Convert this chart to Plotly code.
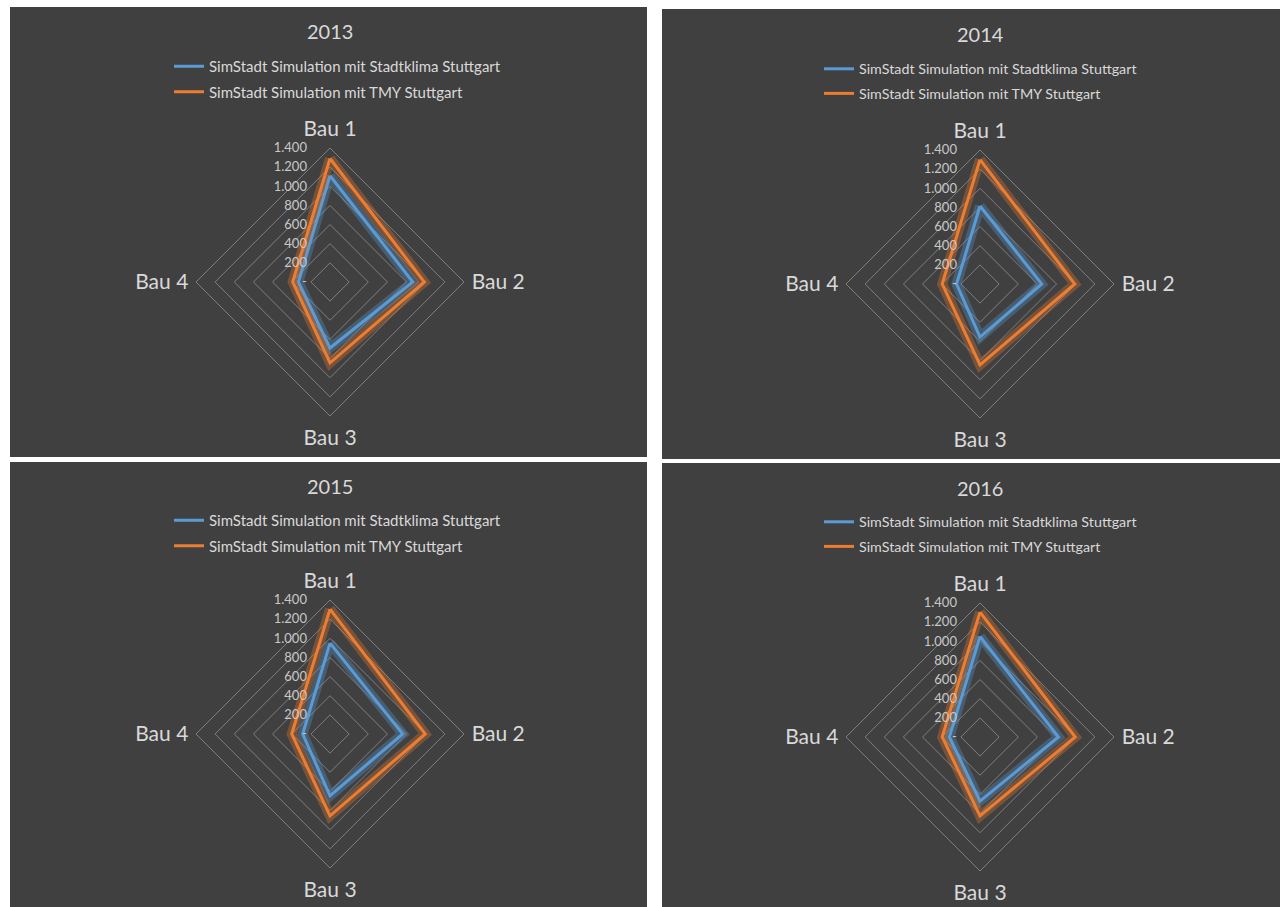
import plotly.graph_objects as go

W, H = 1280, 907

categories = ["Bau 1", "Bau 2", "Bau 3", "Bau 4"]
years = ["2013", "2014", "2015", "2016"]
series_names = ["SimStadt Simulation mit Stadtklima Stuttgart",
                "SimStadt Simulation mit TMY Stuttgart"]

stadtklima_2013 = [1110, 865, 690, 330]
tmy_2013 = [1290, 985, 845, 390]
stadtklima_2014 = [815, 645, 555, 245]
tmy_2014 = [1300, 990, 845, 395]
stadtklima_2015 = [950, 760, 645, 285]
tmy_2015 = [1305, 995, 855, 400]
stadtklima_2016 = [1050, 820, 670, 320]
tmy_2016 = [1305, 995, 825, 395]

tick_values = [0, 200, 400, 600, 800, 1000, 1200, 1400]
tick_labels = ["-", "200", "400", "600", "800", "1.000", "1.200", "1.400"]

data = {
    "2013": [stadtklima_2013, tmy_2013],
    "2014": [stadtklima_2014, tmy_2014],
    "2015": [stadtklima_2015, tmy_2015],
    "2016": [stadtklima_2016, tmy_2016],
}

BG = "#404040"
TXT = "#d9d9d9"
TICK_TXT = "#c8c8c8"
GRID = "#7f7f7f"
COLORS = ["#5b9bd5", "#ed7d31"]
GLOWS = ["rgba(91,155,213,0.32)", "rgba(237,125,49,0.32)"]
FONT = "Lato"

# panel layout in pixels: rect, polar center, title y, legend (x, y), legend font size
panels = {
    "2013": dict(rect=(10, 7, 647, 457), c=(330, 282), ty=31, lg=(169, 50), fs=15),
    "2014": dict(rect=(662, 9, 1280, 459), c=(980, 284), ty=34, lg=(819, 53), fs=14.3),
    "2015": dict(rect=(10, 462, 647, 907), c=(330, 734), ty=486, lg=(169, 504), fs=15),
    "2016": dict(rect=(662, 463, 1280, 907), c=(980, 737), ty=488, lg=(819, 506), fs=14.3),
}
R = 134

fig = go.Figure()
shapes = []
annotations = []
layout_extra = {}

for i, yr in enumerate(years):
    p = panels[yr]
    x0, y0, x1, y1 = p["rect"]
    shapes.append(dict(type="rect", xref="paper", yref="paper",
                       x0=x0 / W, x1=x1 / W, y0=1 - y1 / H, y1=1 - y0 / H,
                       fillcolor=BG, line=dict(width=0), layer="below"))
    cx, cy = p["c"]
    annotations.append(dict(text=yr, xref="paper", yref="paper",
                            x=cx / W, y=1 - p["ty"] / H, xanchor="center", yanchor="middle",
                            showarrow=False, font=dict(family=FONT, size=20, color=TXT)))
    pname = "polar" if i == 0 else f"polar{i + 1}"
    lname = "legend" if i == 0 else f"legend{i + 1}"
    layout_extra[pname] = dict(
        domain=dict(x=[(cx - R) / W, (cx + R) / W], y=[1 - (cy + R) / H, 1 - (cy - R) / H]),
        bgcolor=BG,
        gridshape="linear",
        angularaxis=dict(rotation=90, direction="clockwise", showgrid=False,
                         showline=True, linecolor=GRID, linewidth=1,
                         ticks="outside", ticklen=3, tickcolor="rgba(0,0,0,0)",
                         tickfont=dict(family=FONT, size=21, color=TXT)),
        radialaxis=dict(range=[0, 1400], angle=90, tickangle=90, showline=False,
                        tickvals=tick_values, ticktext=tick_labels,
                        side="counterclockwise", ticks="outside", ticklen=18,
                        tickcolor="rgba(0,0,0,0)",
                        gridcolor=GRID, gridwidth=1,
                        tickfont=dict(family=FONT, size=13, color=TICK_TXT)),
    )
    lx, ly = p["lg"]
    layout_extra[lname] = dict(x=lx / W, y=1 - ly / H, xanchor="left", yanchor="top",
                               bgcolor="rgba(0,0,0,0)", borderwidth=0,
                               font=dict(family=FONT, size=p["fs"], color=TXT),
                               traceorder="grouped", tracegroupgap=3,
                               itemwidth=30)
    sub = "polar" if i == 0 else f"polar{i + 1}"
    for s in range(2):
        vals = data[yr][s]
        r = vals + vals[:1]
        th = categories + categories[:1]
        fig.add_trace(go.Scatterpolar(r=r, theta=th, mode="lines", subplot=sub,
                                      line=dict(color=GLOWS[s], width=10),
                                      showlegend=False, hoverinfo="skip"))
        fig.add_trace(go.Scatterpolar(r=r, theta=th, mode="lines", subplot=sub,
                                      name=series_names[s], legend=lname,
                                      legendgroup=f"{yr}-{s}",
                                      line=dict(color=COLORS[s], width=3)))

fig.update_layout(width=W, height=H, margin=dict(l=0, r=0, t=0, b=0),
                  paper_bgcolor="white", plot_bgcolor="white",
                  shapes=shapes, annotations=annotations, **layout_extra)

fig.write_html("out.html")
